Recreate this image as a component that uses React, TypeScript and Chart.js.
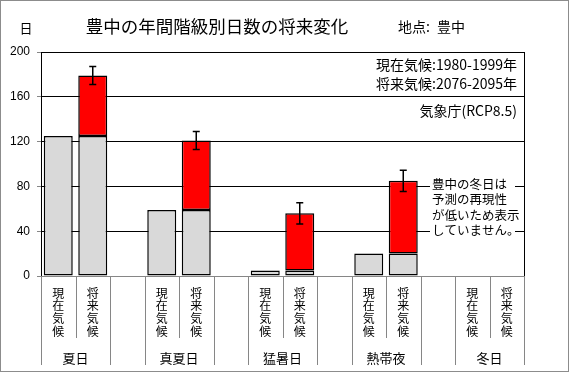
import React, { useEffect, useRef } from "react";
import { Chart, registerables } from "chart.js";

Chart.register(...registerables);

const groups = ["夏日", "真夏日", "猛暑日", "熱帯夜", "冬日"];
const periods = ["現在気候", "将来気候"];
const currentDays: (number | null)[] = [125, 59, 5, 20, null];
const futureDays: (number | null)[] = [179, 121, 56, 85, null];
const futureError: (number | null)[] = [8, 8, 9.5, 9.5, null];
const yTicks = [0, 40, 80, 120, 160, 200];

const titleText = "豊中の年間階級別日数の将来変化";
const placeLabel = "地点:";
const placeName = "豊中";
const unitText = "日";
const legendLines = ["現在気候:1980-1999年", "将来気候:2076-2095年"];
const sourceText = "気象庁(RCP8.5)";
const noteLines = ["豊中の冬日は", "予測の再現性", "が低いため表示", "していません。"];

const JP = '"Noto Sans CJK JP", sans-serif';

// 14 slots: per group [現在, 将来, blank] except last group without blank
const slotLabels: string[] = [];
const grayData: (number | null)[] = [];
const redData: (number | null)[] = [];
groups.forEach((g, gi) => {
  slotLabels.push(g + "-" + periods[0]);
  slotLabels.push(g + "-" + periods[1]);
  grayData.push(currentDays[gi]);
  grayData.push(futureDays[gi] != null ? currentDays[gi] : null);
  redData.push(null);
  redData.push(
    futureDays[gi] != null && currentDays[gi] != null
      ? (futureDays[gi] as number) - (currentDays[gi] as number)
      : null
  );
  if (gi < groups.length - 1) {
    slotLabels.push("gap" + gi);
    grayData.push(null);
    redData.push(null);
  }
});

const decorPlugin = {
  id: "decor",
  afterDatasetsDraw(chart: any) {
    const ctx = chart.ctx;
    const xs = chart.scales.x;
    const ys = chart.scales.y;
    ctx.save();
    ctx.strokeStyle = "#000";
    ctx.lineWidth = 1.5;
    groups.forEach((g, gi) => {
      const f = futureDays[gi];
      const e = futureError[gi];
      if (f == null || e == null) return;
      const x = xs.getPixelForValue(gi * 3 + 1);
      const yt = ys.getPixelForValue(f + e);
      const yb = ys.getPixelForValue(f - e);
      ctx.beginPath();
      ctx.moveTo(x, yt);
      ctx.lineTo(x, yb);
      ctx.moveTo(x - 3.5, yt);
      ctx.lineTo(x + 3.5, yt);
      ctx.moveTo(x - 3.5, yb);
      ctx.lineTo(x + 3.5, yb);
      ctx.stroke();
    });
    ctx.restore();
  },
  afterDraw(chart: any) {
    const ctx = chart.ctx;
    const ca = chart.chartArea;
    const xs = chart.scales.x;
    const n = slotLabels.length;
    const slotW = (ca.right - ca.left) / n;
    ctx.save();

    // plot border
    ctx.strokeStyle = "#000";
    ctx.lineWidth = 1;
    ctx.beginPath();
    ctx.moveTo(Math.round(ca.right) + 0.5, ca.top);
    ctx.lineTo(Math.round(ca.right) + 0.5, ca.bottom);
    ctx.moveTo(ca.left, Math.round(ca.top) + 0.5);
    ctx.lineTo(ca.right, Math.round(ca.top) + 0.5);
    ctx.stroke();

    // separators
    ctx.strokeStyle = "#868686";
    ctx.beginPath();
    for (let i = 0; i <= n; i++) {
      const x = Math.round(ca.left + i * slotW) + 0.5;
      const yEnd = i % 3 === 1 ? 338 : 365;
      ctx.moveTo(x, ca.bottom);
      ctx.lineTo(x, yEnd);
    }
    ctx.moveTo(ca.left, Math.round(ca.bottom) + 0.5);
    ctx.lineTo(ca.right, Math.round(ca.bottom) + 0.5);
    ctx.stroke();

    // x labels
    ctx.fillStyle = "#000";
    ctx.textAlign = "center";
    ctx.textBaseline = "middle";
    ctx.font = "12px " + JP;
    const charYs = [293, 305.8, 318.6, 331.4];
    groups.forEach((g, gi) => {
      periods.forEach((p, pi) => {
        const x = xs.getPixelForValue(gi * 3 + pi);
        Array.from(p).forEach((ch, ci) => {
          ctx.fillText(ch, x, charYs[ci]);
        });
      });
    });
    ctx.font = "13px " + JP;
    groups.forEach((g, gi) => {
      const x = (xs.getPixelForValue(gi * 3) + xs.getPixelForValue(gi * 3 + 1)) / 2;
      ctx.fillText(g, x, 358);
    });

    // title etc
    ctx.font = "17.5px " + JP;
    ctx.fillText(titleText, 217, 26);
    ctx.font = "14px " + JP;
    ctx.textAlign = "left";
    ctx.fillText(placeLabel, 398, 27);
    ctx.fillText(placeName, 437, 27);
    ctx.font = "13px " + JP;
    ctx.textAlign = "center";
    ctx.fillText(unitText, 26, 28);

    // legend texts
    ctx.font = "14px " + JP;
    ctx.textAlign = "right";
    ctx.fillText(legendLines[0], 517, 65);
    ctx.fillText(legendLines[1], 517, 83.5);
    ctx.fillText(sourceText, 517, 111);

    // note box
    ctx.fillStyle = "#fff";
    ctx.fillRect(430, 176, 85, 64);
    ctx.fillStyle = "#000";
    ctx.textAlign = "left";
    ctx.font = "12.5px " + JP;
    const noteYs = [184, 199.5, 215, 230.5];
    noteLines.forEach((t, i) => ctx.fillText(t, 432, noteYs[i]));

    // outer border
    ctx.strokeStyle = "#8c8c8c";
    ctx.lineWidth = 1;
    ctx.strokeRect(0.5, 0.5, 568, 371);
    ctx.restore();
  },
};

export default function App() {
  const ref = useRef<HTMLCanvasElement | null>(null);
  useEffect(() => {
    document.body.style.margin = "0";
    const canvas = ref.current;
    if (!canvas) return;
    const chart = new Chart(canvas, {
      type: "bar",
      data: {
        labels: slotLabels,
        datasets: [
          {
            label: "現在",
            data: grayData,
            backgroundColor: "#d9d9d9",
            borderColor: "#000",
            borderWidth: 1.5,
            borderSkipped: false,
            barPercentage: 0.84,
            categoryPercentage: 1,
          },
          {
            label: "増加",
            data: redData,
            backgroundColor: "#ff0000",
            borderColor: "#000",
            borderWidth: 1.5,
            borderSkipped: false,
            barPercentage: 0.84,
            categoryPercentage: 1,
          },
        ],
      },
      options: {
        responsive: false,
        animation: false,
        devicePixelRatio: 1,
        layout: { padding: { left: 0, right: 45, top: 52, bottom: 0 } },
        plugins: {
          legend: { display: false },
          tooltip: { enabled: false },
          title: { display: false },
        },
        scales: {
          x: {
            stacked: true,
            ticks: { display: false },
            grid: { display: false },
            border: { display: false },
            afterFit: (s: any) => {
              s.height = 97;
            },
          },
          y: {
            stacked: true,
            min: 0,
            max: 200,
            afterBuildTicks: (s: any) => {
              s.ticks = yTicks.map((v) => ({ value: v }));
            },
            ticks: {
              color: "#000",
              padding: 7,
              font: { family: '"Liberation Sans", Arial, sans-serif', size: 12 },
            },
            grid: {
              color: "#000",
              lineWidth: 1,
              tickLength: 4,
              tickColor: "#868686",
            },
            border: { display: true, color: "#000", width: 1 },
            afterFit: (s: any) => {
              s.width = 41;
            },
          },
        },
      },
      plugins: [decorPlugin],
    } as any);
    return () => chart.destroy();
  }, []);
  return <canvas ref={ref} width={569} height={373} style={{ display: "block" }} />;
}
